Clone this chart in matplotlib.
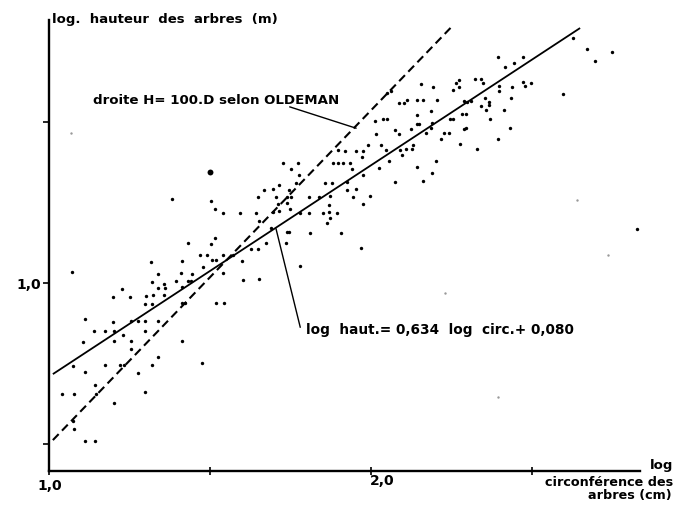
import matplotlib
matplotlib.use("Agg")
import matplotlib.pyplot as plt

plt.rcParams['font.family'] = ['DejaVu Sans']

# ---- data (log circumference, log height) ----
circ_log = [
    1.070, 1.317, 1.414, 1.469, 1.490, 1.539, 1.477, 1.505, 1.519, 1.339, 1.410, 1.444, 1.541,
    1.319, 1.395, 1.433, 1.441, 1.339, 1.358, 1.360, 1.414, 1.226, 1.200, 1.252, 1.300, 1.322,
    1.358, 1.298, 1.319, 1.414, 1.422, 1.518, 1.543, 1.113, 1.200, 1.255, 1.277, 1.298, 1.339,
    1.141, 1.174, 1.202, 1.298, 1.229, 1.107, 1.202, 1.255, 1.412, 1.255, 1.339, 1.075, 1.174,
    1.220, 1.234, 1.319, 1.474, 1.112, 1.275, 1.143, 1.039, 1.077, 1.145, 1.298, 1.202, 1.075,
    1.077, 1.112, 1.143,
    1.728, 1.774, 1.752, 1.777, 1.767, 1.715, 1.695, 1.668, 1.746, 1.650, 1.705, 1.738, 1.752,
    1.502, 1.740, 1.712, 1.748, 1.516, 1.541, 1.593, 1.643, 1.695, 1.715, 1.780, 1.653, 1.689,
    1.738, 1.746, 1.516, 1.502, 1.627, 1.650, 1.736, 1.674, 1.572, 1.598, 1.780, 1.602, 1.652,
    1.381, 1.431,
    1.898, 1.919, 1.952, 1.976, 1.990, 1.971, 1.881, 1.898, 1.912, 1.935, 1.940, 1.974, 1.857,
    1.878, 1.925, 1.953, 1.926, 1.808, 1.839, 1.873, 1.945, 1.997, 1.870, 1.974, 1.808, 1.852,
    1.869, 1.893, 1.873, 1.862, 1.811, 1.906, 1.968,
    2.395, 2.471, 2.444, 2.416, 2.473, 2.496, 2.479, 2.397, 2.398, 2.437, 2.436, 2.324, 2.341,
    2.349, 2.264, 2.274, 2.274, 2.254, 2.156, 2.192, 2.355, 2.366, 2.367, 2.341, 2.357, 2.413,
    2.287, 2.297, 2.310, 2.204, 2.142, 2.162, 2.088, 2.102, 2.111, 2.051, 2.063, 2.185, 2.144,
    2.282, 2.295, 2.370, 2.013, 2.038, 2.051, 2.142, 2.150, 2.188, 2.245, 2.254, 2.185, 2.125,
    2.075, 2.287, 2.295, 2.430, 2.016, 2.086, 2.171, 2.225, 2.243, 2.218, 2.394, 2.032, 2.047,
    2.090, 2.109, 2.127, 2.129, 2.276, 2.330, 2.096, 2.055, 2.202, 2.026, 2.144, 2.189, 2.075,
    2.162,
    2.628, 2.670, 2.696, 2.748, 2.595, 2.827,
]
haut_log = [
    1.033, 1.065, 1.068, 1.088, 1.088, 1.088, 1.051, 1.071, 1.071, 1.027, 1.030, 1.028, 1.030,
    1.004, 1.007, 1.007, 1.007, 0.985, 0.996, 0.984, 0.989, 0.980, 0.957, 0.957, 0.960, 0.962,
    0.962, 0.935, 0.935, 0.939, 0.939, 0.939, 0.939, 0.887, 0.879, 0.881, 0.881, 0.883, 0.881,
    0.852, 0.850, 0.852, 0.850, 0.838, 0.817, 0.819, 0.819, 0.821, 0.796, 0.769, 0.742, 0.744,
    0.746, 0.744, 0.746, 0.751, 0.724, 0.720, 0.684, 0.655, 0.655, 0.655, 0.661, 0.628, 0.572,
    0.548, 0.508, 0.510,
    1.374, 1.374, 1.353, 1.334, 1.310, 1.305, 1.293, 1.289, 1.289, 1.268, 1.268, 1.266, 1.268,
    1.254, 1.248, 1.245, 1.229, 1.229, 1.218, 1.216, 1.218, 1.220, 1.223, 1.218, 1.192, 1.171,
    1.158, 1.158, 1.140, 1.121, 1.107, 1.107, 1.125, 1.125, 1.088, 1.069, 1.053, 1.009, 1.011,
    1.261, 1.123,
    1.413, 1.410, 1.410, 1.410, 1.428, 1.392, 1.372, 1.372, 1.372, 1.374, 1.355, 1.336, 1.311,
    1.311, 1.314, 1.291, 1.289, 1.268, 1.268, 1.270, 1.268, 1.270, 1.243, 1.245, 1.218, 1.218,
    1.220, 1.218, 1.202, 1.187, 1.156, 1.156, 1.109,
    1.701, 1.703, 1.684, 1.672, 1.624, 1.620, 1.612, 1.612, 1.597, 1.610, 1.575, 1.633, 1.633,
    1.622, 1.622, 1.630, 1.610, 1.599, 1.618, 1.610, 1.574, 1.563, 1.553, 1.550, 1.537, 1.537,
    1.566, 1.562, 1.564, 1.570, 1.570, 1.570, 1.560, 1.560, 1.570, 1.589, 1.595, 1.535, 1.523,
    1.525, 1.525, 1.508, 1.504, 1.508, 1.508, 1.494, 1.494, 1.496, 1.510, 1.508, 1.481, 1.477,
    1.475, 1.479, 1.481, 1.481, 1.463, 1.463, 1.465, 1.465, 1.465, 1.446, 1.448, 1.430, 1.413,
    1.413, 1.415, 1.415, 1.430, 1.432, 1.415, 1.397, 1.378, 1.380, 1.357, 1.359, 1.341, 1.314,
    1.316,
    1.762, 1.727, 1.689, 1.718, 1.587, 1.169,
]
big_circ = [1.500]
big_haut = [1.344]
faint_circ = [2.639, 2.395, 2.737, 2.230, 1.068]
faint_haut = [1.258, 0.647, 1.087, 0.968, 1.466]

# regression line and Oldeman line (end points)
fit_circ = [1.012, 2.649]
fit_haut = [0.717, 1.792]
old_circ = [1.012, 2.255]
old_haut = [0.512, 1.801]

xticks = [1.0, 1.5, 2.0, 2.5]
yticks = [0.5, 1.0, 1.5]
yticklabels = ['', '1,0', '']

W, H = 674, 505
fig = plt.figure(figsize=(W / 100, H / 100), dpi=100)
fig.patch.set_facecolor('white')

def fx(px):
    return px / W

def fy(py):
    return 1 - py / H

ax = fig.add_axes([fx(49), fy(471), (640 - 49) / W, (471 - 20) / H])
ax.set_xlim(1.0, 2.835)
ax.set_ylim(0.416, 1.817)

for s in ['top', 'right']:
    ax.spines[s].set_visible(False)
for s in ['left', 'bottom']:
    ax.spines[s].set_linewidth(1.7)
    ax.spines[s].set_color('black')

ax.set_xticks(xticks)
ax.set_xticklabels([''] * len(xticks))
ax.set_yticks(yticks)
ax.set_yticklabels(yticklabels, fontsize=10, fontweight='bold')
ax.tick_params(axis='x', direction='inout', length=6, width=1.2)
ax.tick_params(axis='y', direction='out', length=4, width=1.2, pad=2)

ax.scatter(circ_log, haut_log, s=6, color='black', linewidths=0, zorder=3)
ax.scatter(big_circ, big_haut, s=18, color='black', linewidths=0, zorder=3)
ax.scatter(faint_circ, faint_haut, s=3, color='#999999', linewidths=0, zorder=2)

ax.plot(fit_circ, fit_haut, color='black', lw=1.3, solid_capstyle='butt')
ax.plot(old_circ, old_haut, color='black', lw=1.5, dashes=(4, 2.3))

# leader lines
ax.plot([1.748, 1.953], [1.547, 1.481], color='black', lw=1.0)
ax.plot([1.705, 1.780], [1.168, 0.863], color='black', lw=1.0)

tkw = dict(fontweight='bold', color='black')
# x tick labels (placed under their ticks as in the scan)
fig.text(fx(50), fy(486), '1,0', ha='center', va='center', fontsize=10, **tkw)
fig.text(fx(382), fy(481), '2,0', ha='center', va='center', fontsize=10, **tkw)

fig.text(fx(52), fy(20), 'log.  hauteur  des  arbres  (m)', ha='left', va='center',
         fontsize=9.5, **tkw)
fig.text(fx(93), fy(100), 'droite H= 100.D selon OLDEMAN', ha='left', va='center',
         fontsize=9.6, **tkw)
fig.text(fx(306), fy(330), 'log  haut.= 0,634  log  circ.+ 0,080', ha='left', va='center',
         fontsize=9.8, **tkw)
fig.text(fx(673), fy(465), 'log', ha='right', va='center', fontsize=9.5, **tkw)
fig.text(fx(673), fy(483), 'circonférence des', ha='right', va='center', fontsize=9.2, **tkw)
fig.text(fx(672), fy(496), 'arbres (cm)', ha='right', va='center', fontsize=9.2, **tkw)

fig.savefig('out.png', dpi=100, facecolor='white')
